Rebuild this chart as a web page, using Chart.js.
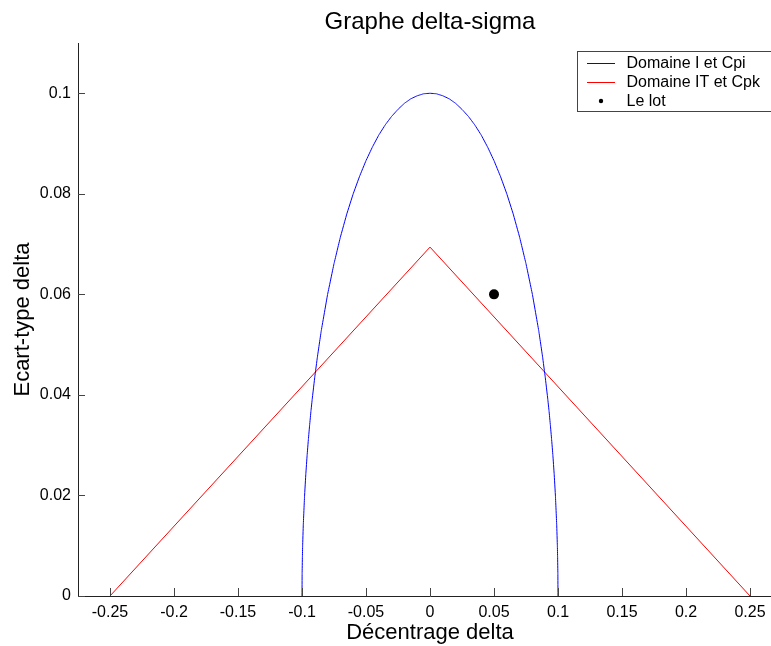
<!DOCTYPE html>
<html>
<head>
<meta charset="utf-8">
<script src="https://cdn.jsdelivr.net/npm/chart.js@4/dist/chart.umd.min.js"></script>
<style>
  html, body { margin: 0; padding: 0; background: #fff; overflow: hidden; }
  #wrap { width: 787px; height: 646px; }
</style>
</head>
<body>
<div id="wrap"><canvas id="c" width="787" height="646"></canvas></div>
<script>
// ---- Data ----
const chartTitle = 'Graphe delta-sigma';
const xAxisTitle = 'Décentrage delta';
const yAxisTitle = 'Ecart-type delta';

const seriesNames = ['Domaine I et Cpi', 'Domaine IT et Cpk', 'Le lot'];

// Blue curve: Domaine I et Cpi
const blueDelta = [-0.1000, -0.0999, -0.0997, -0.0995, -0.0990, -0.0980, -0.0970, -0.0960, -0.0950, -0.0940,
  -0.0930, -0.0920, -0.0900, -0.0880, -0.0850, -0.0800, -0.0750, -0.0700, -0.0650, -0.0600,
  -0.0550, -0.0500, -0.0450, -0.0400, -0.0350, -0.0300, -0.0250, -0.0200, -0.0150, -0.0100,
  -0.0050, 0.0000, 0.0050, 0.0100, 0.0150, 0.0200, 0.0250, 0.0300, 0.0350, 0.0400,
  0.0450, 0.0500, 0.0550, 0.0600, 0.0650, 0.0700, 0.0750, 0.0800, 0.0850, 0.0880,
  0.0900, 0.0920, 0.0930, 0.0940, 0.0950, 0.0960, 0.0970, 0.0980, 0.0990, 0.0995,
  0.0997, 0.0999, 0.1000];
const blueSigma = [0.0000, 0.0045, 0.0077, 0.0100, 0.0141, 0.0199, 0.0243, 0.0280, 0.0312, 0.0341,
  0.0368, 0.0392, 0.0436, 0.0475, 0.0527, 0.0600, 0.0661, 0.0714, 0.0760, 0.0800,
  0.0835, 0.0866, 0.0893, 0.0917, 0.0937, 0.0954, 0.0968, 0.0980, 0.0989, 0.0995,
  0.0999, 0.1000, 0.0999, 0.0995, 0.0989, 0.0980, 0.0968, 0.0954, 0.0937, 0.0917,
  0.0893, 0.0866, 0.0835, 0.0800, 0.0760, 0.0714, 0.0661, 0.0600, 0.0527, 0.0475,
  0.0436, 0.0392, 0.0368, 0.0341, 0.0312, 0.0280, 0.0243, 0.0199, 0.0141, 0.0100,
  0.0077, 0.0045, 0.0000];

// Red curve: Domaine IT et Cpk
const redDelta = [-0.25, 0.00, 0.25];
const redSigma = [0.0000, 0.0694, 0.0000];

// Point: Le lot
const lotDelta = [0.05];
const lotSigma = [0.06];

// Axis ticks
const xTickValues = [-0.25, -0.2, -0.15, -0.1, -0.05, 0, 0.05, 0.1, 0.15, 0.2, 0.25];
const xTickLabels = ['-0.25', '-0.2', '-0.15', '-0.1', '-0.05', '0', '0.05', '0.1', '0.15', '0.2', '0.25'];
const yTickValues = [0, 0.02, 0.04, 0.06, 0.08, 0.1];
const yTickLabels = ['0', '0.02', '0.04', '0.06', '0.08', '0.1'];

const colors = ['#0000ff', '#ff0000', '#000000'];

// ---- Build ----
const toXY = (xs, ys) => xs.map((v, i) => ({ x: v, y: ys[i] }));
const FONT = "'Liberation Sans', Arial, Helvetica, sans-serif";

const inwardTicks = {
  id: 'inwardTicks',
  afterDatasetsDraw(chart) {
    const { ctx, chartArea, scales: { x, y } } = chart;
    ctx.save();
    ctx.strokeStyle = '#444';
    ctx.lineWidth = 1;
    ctx.beginPath();
    x.ticks.forEach(t => {
      const px = Math.round(x.getPixelForValue(t.value)) + 0.5;
      ctx.moveTo(px, chartArea.bottom);
      ctx.lineTo(px, chartArea.bottom - 8);
    });
    y.ticks.forEach(t => {
      const py = Math.round(y.getPixelForValue(t.value)) + 0.5;
      ctx.moveTo(chartArea.left, py);
      ctx.lineTo(chartArea.left + 7, py);
    });
    ctx.stroke();
    ctx.restore();
  }
};

const axesTitle = {
  id: 'axesTitle',
  afterDraw(chart) {
    const { ctx, chartArea } = chart;
    ctx.save();
    ctx.font = '24px ' + FONT;
    ctx.fillStyle = '#000';
    ctx.textAlign = 'center';
    ctx.textBaseline = 'middle';
    ctx.fillText(chartTitle, (chartArea.left + chartArea.right) / 2, 22);
    ctx.restore();
  }
};

const boxLegend = {
  id: 'boxLegend',
  afterDraw(chart) {
    const { ctx } = chart;
    const bx = 577.5, by = 51.5, bw = 230, bh = 60;
    ctx.save();
    ctx.fillStyle = '#fff';
    ctx.fillRect(bx, by, bw, bh);
    ctx.strokeStyle = '#444';
    ctx.lineWidth = 1;
    ctx.strokeRect(bx, by, bw, bh);
    ctx.font = '16px ' + FONT;
    ctx.textBaseline = 'middle';
    ctx.fillStyle = '#000';
    const rows = [63, 82, 101];
    chart.data.datasets.forEach((ds, i) => {
      const ry = rows[i];
      if (i < 2) {
        ctx.strokeStyle = ds.borderColor;
        ctx.beginPath();
        ctx.moveTo(587, ry + 0.5);
        ctx.lineTo(615, ry + 0.5);
        ctx.stroke();
      } else {
        ctx.fillStyle = ds.backgroundColor;
        ctx.beginPath();
        ctx.arc(601, ry, 2.2, 0, Math.PI * 2);
        ctx.fill();
      }
      ctx.fillStyle = '#000';
      ctx.fillText(ds.label, 626.5, ry + 1);
    });
    ctx.restore();
  }
};

new Chart(document.getElementById('c'), {
  type: 'line',
  data: {
    datasets: [
      { label: seriesNames[0], data: toXY(blueDelta, blueSigma), borderColor: colors[0], borderWidth: 1, pointRadius: 0, tension: 0.0001, fill: false },
      { label: seriesNames[1], data: toXY(redDelta, redSigma), borderColor: colors[1], borderWidth: 1, pointRadius: 0, tension: 0, fill: false },
      { label: seriesNames[2], data: toXY(lotDelta, lotSigma), showLine: false, borderColor: colors[2], backgroundColor: colors[2], pointRadius: 5, pointBorderWidth: 0, pointHoverRadius: 5 }
    ]
  },
  options: {
    responsive: false,
    animation: false,
    devicePixelRatio: 1,
    layout: { padding: { left: 0, right: 0, top: 43, bottom: 0 } },
    plugins: {
      legend: { display: false },
      tooltip: { enabled: false },
      title: { display: false }
    },
    scales: {
      x: {
        type: 'linear', min: -0.275, max: 0.275,
        afterFit(s) { s.height = 50; s.paddingLeft = 0; s.paddingRight = 0; },
        afterBuildTicks(s) { s.ticks = xTickValues.map(v => ({ value: v })); },
        grid: { display: true, drawOnChartArea: false, drawTicks: false },
        border: { display: true, color: '#222', width: 1 },
        ticks: {
          padding: 7, color: '#000', maxRotation: 0, autoSkip: false,
          font: { family: FONT, size: 16 },
          callback: (v) => { const i = xTickValues.findIndex(t => Math.abs(t - v) < 1e-9); return i >= 0 ? xTickLabels[i] : ''; }
        },
        title: { display: true, text: xAxisTitle, color: '#000', font: { family: FONT, size: 22 }, padding: { top: 0, bottom: 0 } }
      },
      y: {
        type: 'linear', min: 0, max: 0.11,
        afterFit(s) { s.width = 78; s.paddingTop = 0; s.paddingBottom = 0; },
        afterBuildTicks(s) { s.ticks = yTickValues.map(v => ({ value: v })); },
        grid: { display: true, drawOnChartArea: false, drawTicks: false },
        border: { display: true, color: '#222', width: 1 },
        ticks: {
          padding: 7, color: '#000', autoSkip: false,
          font: { family: FONT, size: 16 },
          callback: (v) => { const i = yTickValues.findIndex(t => Math.abs(t - v) < 1e-9); return i >= 0 ? yTickLabels[i] : ''; }
        },
        title: { display: true, text: yAxisTitle, color: '#000', font: { family: FONT, size: 22 }, padding: { top: 10, bottom: 0 } }
      }
    }
  },
  plugins: [inwardTicks, axesTitle, boxLegend]
});
</script>
</body>
</html>
